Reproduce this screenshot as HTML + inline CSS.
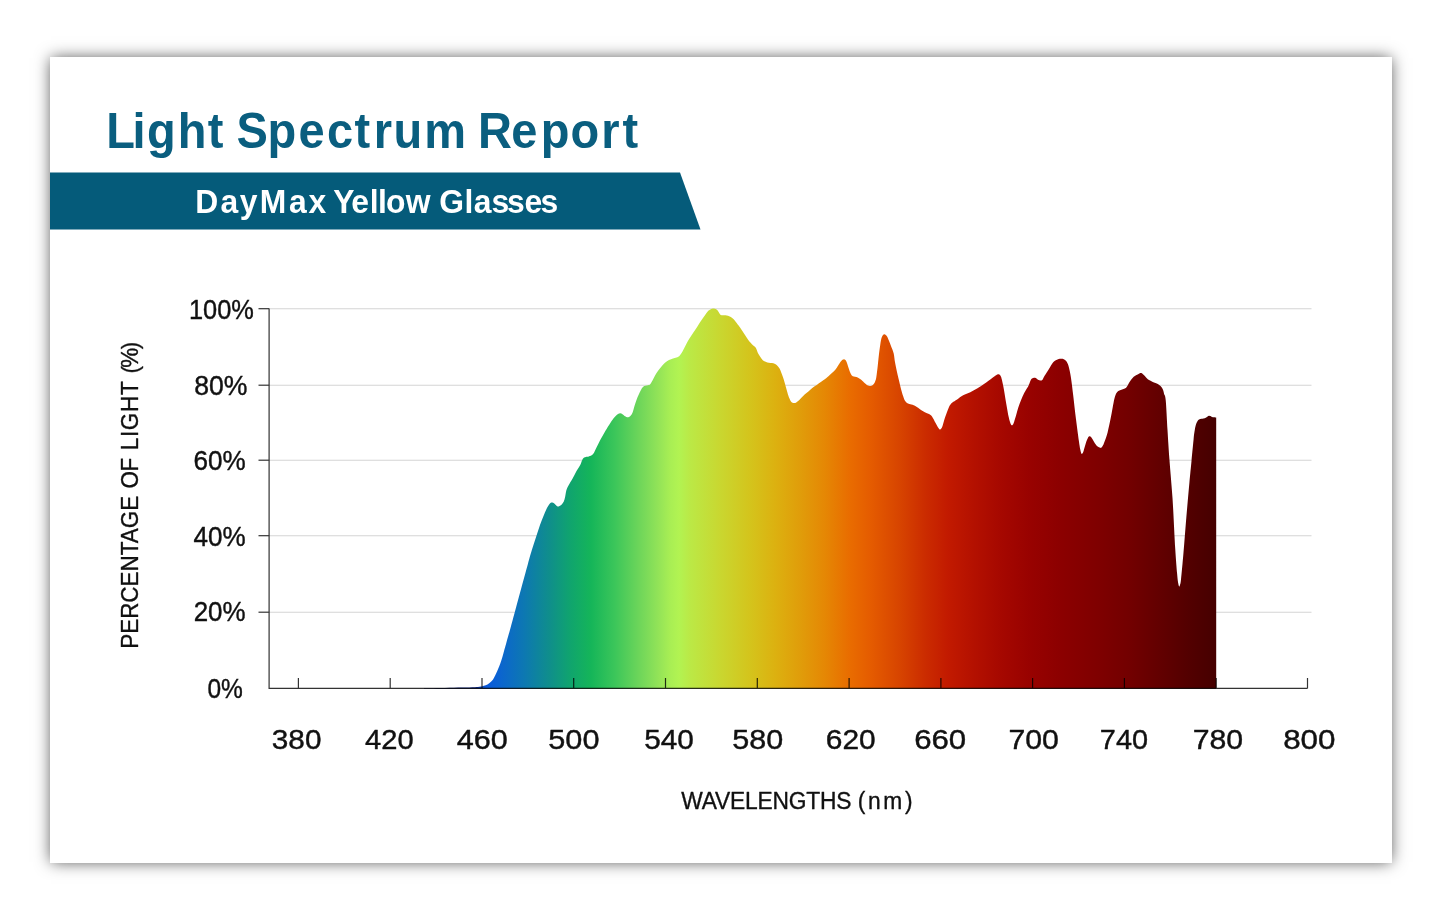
<!DOCTYPE html>
<html lang="en">
<head>
<meta charset="utf-8">
<title>Light Spectrum Report - DayMax Yellow Glasses</title>
<style>
html,body{margin:0;padding:0;background:#ffffff;}
body{width:1445px;height:918px;position:relative;overflow:hidden;font-family:"Liberation Sans",sans-serif;}
.card{position:absolute;left:50px;top:57px;width:1341.6px;height:805.5px;background:#fff;box-shadow:0 0 15px -1px rgba(0,0,0,0.68);}
svg{position:absolute;left:0;top:0;display:block;}
</style>
</head>
<body>
<div class="card"></div>
<svg width="1445" height="918" viewBox="0 0 1445 918" font-family="'Liberation Sans', sans-serif">
<defs><linearGradient id="sp" gradientUnits="userSpaceOnUse" x1="424" y1="0" x2="1216" y2="0"><stop offset="0.0000" stop-color="#0a1560"/><stop offset="0.0657" stop-color="#08207c"/><stop offset="0.0745" stop-color="#0a4fc8"/><stop offset="0.0795" stop-color="#0a5adb"/><stop offset="0.0922" stop-color="#0b62d3"/><stop offset="0.1263" stop-color="#0d78b2"/><stop offset="0.1578" stop-color="#0f8e8c"/><stop offset="0.1856" stop-color="#10a56d"/><stop offset="0.2109" stop-color="#15b559"/><stop offset="0.2412" stop-color="#3cc65a"/><stop offset="0.2727" stop-color="#6fd65a"/><stop offset="0.2955" stop-color="#92e358"/><stop offset="0.3106" stop-color="#a8ee54"/><stop offset="0.3220" stop-color="#b2f352"/><stop offset="0.3359" stop-color="#bbe946"/><stop offset="0.3737" stop-color="#c9d730"/><stop offset="0.4116" stop-color="#d4c41c"/><stop offset="0.4432" stop-color="#dcb110"/><stop offset="0.4747" stop-color="#e09d0a"/><stop offset="0.5063" stop-color="#e58704"/><stop offset="0.5379" stop-color="#e96c00"/><stop offset="0.5631" stop-color="#e55c00"/><stop offset="0.6010" stop-color="#d74400"/><stop offset="0.6326" stop-color="#cb2c00"/><stop offset="0.6616" stop-color="#c21a00"/><stop offset="0.6957" stop-color="#b31000"/><stop offset="0.7273" stop-color="#a60800"/><stop offset="0.7652" stop-color="#980200"/><stop offset="0.8030" stop-color="#8c0000"/><stop offset="0.8535" stop-color="#7e0000"/><stop offset="0.8914" stop-color="#720000"/><stop offset="0.9293" stop-color="#620000"/><stop offset="0.9672" stop-color="#520000"/><stop offset="1.0000" stop-color="#460000"/></linearGradient></defs>
<polygon points="50,172.4 680,172.4 700.5,229.5 50,229.5" fill="#055b7a"/>
<line x1="269.1" y1="308.7" x2="1311.5" y2="308.7" stroke="#d4d4d4" stroke-width="1.1"/>
<line x1="269.1" y1="385.2" x2="1311.5" y2="385.2" stroke="#d4d4d4" stroke-width="1.1"/>
<line x1="269.1" y1="460.2" x2="1311.5" y2="460.2" stroke="#d4d4d4" stroke-width="1.1"/>
<line x1="269.1" y1="535.7" x2="1311.5" y2="535.7" stroke="#d4d4d4" stroke-width="1.1"/>
<line x1="269.1" y1="612.2" x2="1311.5" y2="612.2" stroke="#d4d4d4" stroke-width="1.1"/>
<path d="M424.0,688.3C427.5,688.2 438.7,688.1 445.0,688.0C451.3,687.9 457.0,687.7 462.0,687.6C467.0,687.5 472.0,687.3 475.0,687.2C478.0,687.1 478.8,686.9 480.0,686.8C481.2,686.6 481.4,686.5 482.3,686.3C483.2,686.0 484.6,685.8 485.7,685.3C486.8,684.8 488.1,684.0 489.2,683.2C490.2,682.5 491.2,681.7 492.0,680.8C492.8,679.9 493.3,678.9 494.0,677.7C494.7,676.5 495.4,675.0 496.1,673.5C496.8,672.0 497.5,670.4 498.2,668.7C498.9,667.0 499.6,665.5 500.3,663.5C501.0,661.5 501.8,659.0 502.4,656.9C503.0,654.8 503.5,653.0 504.1,650.7C504.8,648.4 505.2,646.8 506.3,643.0C507.4,639.2 509.1,633.1 510.5,628.0C511.9,622.9 513.0,618.9 514.7,612.6C516.4,606.3 518.5,598.4 520.7,590.3C522.9,582.2 526.0,570.7 527.9,563.9C529.8,557.1 530.6,554.1 532.0,549.5C533.4,544.9 535.0,540.4 536.3,536.3C537.6,532.2 538.8,528.4 540.0,525.0C541.2,521.6 542.4,518.7 543.5,516.0C544.6,513.3 545.5,511.0 546.5,509.0C547.5,507.0 548.6,505.1 549.5,504.0C550.4,502.9 551.2,502.7 552.0,502.6C552.8,502.5 553.3,502.9 554.0,503.3C554.7,503.8 555.4,504.8 556.0,505.3C556.6,505.9 557.0,506.5 557.6,506.6C558.2,506.7 558.9,506.3 559.5,506.0C560.1,505.7 560.8,505.4 561.5,504.7C562.2,503.9 563.2,502.9 563.8,501.5C564.4,500.1 564.8,498.4 565.2,496.5C565.6,494.6 565.8,492.2 566.3,490.4C566.8,488.6 567.5,487.5 568.5,485.5C569.5,483.5 571.4,480.8 572.6,478.5C573.9,476.2 574.8,474.2 576.0,472.0C577.2,469.8 579.1,467.2 580.1,465.3C581.1,463.4 581.4,461.8 582.0,460.5C582.6,459.2 583.1,458.4 583.8,457.8C584.5,457.2 585.2,457.2 586.0,457.0C586.8,456.8 587.6,457.1 588.8,456.6C590.0,456.1 591.8,455.6 593.1,454.1C594.4,452.6 595.3,449.8 596.5,447.5C597.7,445.2 598.8,442.8 600.1,440.3C601.4,437.8 603.0,435.0 604.5,432.5C606.0,430.0 607.6,427.3 608.9,425.3C610.1,423.3 611.0,422.0 612.0,420.5C613.0,419.0 614.2,417.6 615.2,416.5C616.2,415.4 617.2,414.6 618.0,414.0C618.8,413.4 619.5,413.2 620.2,413.2C621.0,413.2 621.7,413.7 622.5,414.2C623.3,414.7 624.4,415.8 625.2,416.3C626.0,416.8 626.7,417.2 627.3,417.3C627.9,417.4 628.3,417.3 628.9,417.0C629.5,416.7 630.2,416.3 630.8,415.5C631.4,414.7 632.1,413.8 632.7,412.2C633.3,410.6 633.9,408.0 634.5,406.0C635.1,404.0 635.6,402.2 636.4,400.2C637.1,398.2 638.1,395.9 639.0,394.0C639.9,392.1 640.8,390.2 641.5,389.0C642.2,387.8 642.9,387.2 643.5,386.6C644.1,386.1 644.5,385.9 645.2,385.7C646.0,385.5 647.2,385.4 648.0,385.2C648.8,384.9 649.5,385.0 650.2,384.2C651.0,383.4 651.7,382.0 652.5,380.5C653.3,379.0 654.2,376.9 655.2,375.2C656.2,373.5 657.2,372.0 658.3,370.5C659.3,369.0 660.4,367.7 661.5,366.4C662.6,365.1 663.8,363.9 665.0,362.8C666.2,361.8 667.7,360.8 669.0,360.1C670.3,359.4 671.8,358.9 673.0,358.5C674.2,358.1 675.3,358.1 676.5,357.6C677.7,357.1 678.8,356.7 680.0,355.3C681.2,353.9 682.3,351.7 683.5,349.5C684.7,347.3 685.9,344.6 687.2,342.3C688.5,340.0 690.0,337.8 691.4,335.6C692.8,333.4 693.9,331.9 695.6,329.3C697.3,326.7 699.6,322.9 701.6,320.0C703.6,317.1 706.2,313.5 707.5,311.8C708.8,310.1 708.9,310.5 709.5,310.0C710.1,309.5 710.5,309.2 711.1,309.0C711.7,308.8 712.3,308.7 712.9,308.6C713.5,308.6 714.1,308.5 714.7,308.7C715.3,308.9 716.0,309.2 716.6,309.6C717.2,310.1 717.8,310.8 718.3,311.4C718.8,312.0 719.1,312.9 719.5,313.5C719.9,314.1 720.1,314.7 720.7,315.0C721.3,315.3 722.2,315.2 723.0,315.3C723.8,315.4 724.7,315.2 725.5,315.3C726.3,315.4 727.2,315.6 728.0,315.8C728.8,316.1 729.5,316.3 730.3,316.8C731.1,317.3 732.0,317.9 732.8,318.6C733.6,319.3 734.2,319.9 735.1,321.0C736.0,322.1 737.3,323.8 738.4,325.3C739.5,326.8 740.6,328.3 741.7,329.9C742.8,331.5 743.9,333.3 745.0,335.0C746.1,336.7 747.1,338.6 748.3,340.1C749.4,341.7 751.0,343.3 751.9,344.3C752.8,345.3 753.2,345.5 753.8,346.0C754.4,346.5 754.9,346.7 755.4,347.3C755.9,347.9 756.2,348.7 756.6,349.6C757.0,350.5 757.2,351.5 757.8,352.7C758.4,353.9 759.4,355.6 760.2,356.8C761.0,358.0 761.8,359.1 762.6,359.9C763.4,360.7 764.2,361.2 765.0,361.6C765.8,362.0 766.5,362.3 767.4,362.5C768.3,362.7 769.4,362.8 770.4,362.9C771.4,363.0 772.5,363.0 773.4,363.2C774.3,363.4 774.9,363.8 775.6,364.2C776.3,364.6 777.0,365.3 777.6,365.9C778.2,366.5 778.7,367.2 779.2,368.0C779.7,368.8 779.9,368.9 780.6,370.7C781.3,372.5 782.7,376.2 783.6,379.0C784.5,381.8 785.2,384.6 786.0,387.4C786.8,390.2 787.8,393.9 788.4,395.8C789.0,397.7 789.3,398.1 789.7,399.0C790.1,399.9 790.4,400.6 790.8,401.2C791.2,401.8 791.6,402.2 792.0,402.5C792.4,402.8 792.7,402.9 793.2,403.0C793.7,403.1 794.3,403.0 794.8,402.9C795.3,402.8 795.4,403.0 796.2,402.4C797.0,401.8 798.4,400.7 799.8,399.4C801.2,398.1 803.1,396.0 804.6,394.6C806.1,393.2 807.5,392.2 809.0,391.0C810.5,389.8 811.0,389.0 813.6,387.1C816.2,385.2 821.7,381.6 824.4,379.5C827.1,377.4 828.2,376.3 830.0,374.7C831.8,373.1 833.9,371.3 835.3,369.7C836.7,368.1 837.4,366.7 838.3,365.3C839.2,363.9 840.1,362.4 840.8,361.5C841.5,360.6 842.0,360.2 842.5,359.8C843.0,359.4 843.5,359.2 844.0,359.2C844.5,359.2 844.9,359.5 845.4,360.0C845.9,360.5 846.0,360.5 846.7,362.3C847.4,364.1 848.8,368.8 849.5,370.8C850.2,372.8 850.5,373.3 851.0,374.2C851.5,375.1 852.1,375.8 852.8,376.2C853.5,376.6 854.3,376.6 855.0,376.8C855.7,377.0 856.0,376.8 857.1,377.3C858.2,377.9 860.4,379.2 861.5,380.1C862.6,381.0 863.1,381.7 864.0,382.5C864.9,383.3 866.1,384.3 866.9,384.9C867.7,385.4 868.2,385.6 868.8,385.8C869.4,386.0 870.0,386.1 870.6,386.0C871.2,385.9 871.9,385.7 872.5,385.3C873.1,384.9 873.6,384.3 874.1,383.6C874.6,382.9 874.9,382.1 875.3,381.0C875.7,379.9 875.9,379.9 876.3,377.3C876.7,374.7 877.3,369.8 877.8,365.3C878.3,360.8 879.0,353.8 879.5,350.1C880.0,346.4 880.2,345.0 880.5,343.0C880.8,341.0 881.1,339.4 881.5,338.1C881.9,336.8 882.3,335.9 882.8,335.2C883.3,334.5 883.8,334.2 884.3,334.2C884.8,334.2 885.5,334.6 886.0,335.2C886.5,335.8 886.8,335.8 887.6,337.5C888.4,339.2 889.9,343.1 890.9,345.7C891.9,348.3 893.0,350.5 893.7,353.4C894.4,356.3 894.4,359.0 895.2,363.2C896.0,367.4 897.4,373.7 898.5,378.4C899.6,383.1 900.9,388.4 901.7,391.5C902.5,394.6 903.0,395.6 903.5,397.2C904.0,398.8 904.4,399.8 905.0,400.8C905.6,401.8 906.3,402.4 907.0,403.0C907.7,403.6 908.3,403.7 909.4,404.1C910.5,404.5 912.2,404.6 913.7,405.2C915.2,405.8 917.1,407.1 918.1,407.8C919.1,408.5 918.9,408.6 920.0,409.3C921.1,410.1 923.3,411.5 924.8,412.3C926.3,413.1 927.8,413.4 929.0,414.1C930.2,414.8 930.9,415.0 932.0,416.5C933.1,418.0 934.5,421.1 935.6,423.1C936.7,425.1 937.8,427.2 938.6,428.3C939.4,429.4 939.7,429.6 940.2,429.5C940.7,429.4 941.2,428.6 941.6,428.0C942.0,427.4 942.0,427.5 942.6,425.7C943.2,423.9 944.2,420.1 945.2,417.1C946.2,414.1 947.9,409.6 948.8,407.5C949.7,405.4 949.9,405.3 950.5,404.5C951.1,403.7 951.3,403.3 952.4,402.5C953.5,401.7 955.3,400.7 957.1,399.5C958.9,398.3 960.9,396.5 963.1,395.3C965.3,394.1 967.9,393.4 970.3,392.2C972.7,391.0 975.1,389.8 977.5,388.3C979.9,386.9 982.3,385.2 984.7,383.5C987.1,381.8 990.0,379.6 991.9,378.2C993.8,376.8 995.0,375.8 996.1,375.2C997.2,374.6 997.7,374.4 998.3,374.3C998.9,374.2 999.4,374.4 999.8,374.8C1000.2,375.2 1000.5,375.7 1000.9,376.5C1001.2,377.3 1001.4,377.6 1001.9,379.8C1002.4,382.0 1003.2,385.5 1003.9,389.5C1004.6,393.5 1005.5,399.3 1006.3,403.9C1007.1,408.5 1008.0,413.8 1008.7,417.1C1009.4,420.4 1010.0,422.1 1010.5,423.5C1011.0,424.9 1011.5,425.3 1012.0,425.3C1012.5,425.3 1013.0,424.9 1013.6,423.3C1014.2,421.7 1015.1,418.5 1015.9,415.9C1016.7,413.3 1017.4,410.2 1018.3,407.5C1019.2,404.8 1020.2,402.1 1021.2,399.7C1022.2,397.3 1023.1,395.2 1024.2,393.1C1025.3,391.0 1026.9,388.8 1027.8,387.1C1028.7,385.4 1029.1,384.2 1029.6,383.0C1030.1,381.8 1030.4,380.7 1030.8,380.0C1031.2,379.3 1031.6,378.9 1032.0,378.6C1032.4,378.3 1032.6,378.1 1033.2,378.0C1033.8,377.9 1034.8,377.6 1035.6,377.9C1036.4,378.2 1037.2,379.2 1038.0,379.7C1038.8,380.1 1039.7,380.6 1040.4,380.6C1041.2,380.6 1041.8,380.5 1042.5,379.7C1043.2,378.9 1043.5,377.6 1044.6,375.8C1045.6,374.1 1047.4,371.5 1048.8,369.2C1050.2,366.9 1051.8,363.8 1053.2,362.2C1054.7,360.6 1056.0,360.0 1057.5,359.4C1059.0,358.8 1060.8,358.7 1061.9,358.7C1063.0,358.7 1063.6,359.0 1064.3,359.4C1065.0,359.8 1065.7,360.4 1066.2,361.1C1066.8,361.8 1067.2,362.6 1067.6,363.6C1068.0,364.6 1068.2,364.6 1068.8,367.0C1069.4,369.4 1070.3,373.2 1071.0,377.9C1071.7,382.6 1072.4,388.4 1073.2,395.3C1074.0,402.2 1075.0,411.7 1076.0,419.3C1077.0,426.9 1078.2,436.1 1078.9,441.1C1079.6,446.1 1079.9,447.4 1080.3,449.5C1080.7,451.6 1081.1,453.1 1081.5,453.7C1081.9,454.3 1082.2,453.8 1082.5,453.3C1082.8,452.8 1083.0,452.6 1083.6,450.9C1084.1,449.2 1085.1,445.4 1085.8,443.2C1086.5,441.0 1087.5,438.9 1088.0,437.8C1088.5,436.7 1088.7,436.9 1089.0,436.6C1089.3,436.4 1089.6,436.2 1089.9,436.3C1090.2,436.4 1090.6,436.6 1091.0,437.0C1091.4,437.4 1091.6,437.7 1092.4,438.9C1093.2,440.1 1094.8,443.1 1095.6,444.3C1096.4,445.5 1096.8,445.8 1097.3,446.3C1097.8,446.8 1098.4,446.9 1098.9,447.2C1099.4,447.4 1099.9,447.7 1100.3,447.8C1100.7,447.9 1101.1,448.0 1101.5,447.6C1101.9,447.2 1102.4,446.4 1102.9,445.5C1103.4,444.6 1103.5,444.4 1104.3,442.2C1105.1,440.0 1106.5,436.6 1107.6,432.4C1108.7,428.2 1109.9,422.2 1110.9,417.1C1111.9,412.0 1113.0,405.3 1113.7,401.9C1114.4,398.5 1114.6,397.9 1115.0,396.5C1115.4,395.1 1115.8,394.1 1116.3,393.2C1116.8,392.3 1117.6,391.6 1118.3,391.0C1119.0,390.4 1119.8,390.2 1120.7,389.9C1121.6,389.6 1122.6,389.4 1123.5,389.0C1124.4,388.6 1125.4,388.3 1126.1,387.7C1126.8,387.1 1127.2,386.2 1127.8,385.3C1128.3,384.4 1128.8,383.3 1129.4,382.3C1130.0,381.3 1130.8,380.2 1131.5,379.3C1132.2,378.4 1133.0,377.5 1133.7,376.8C1134.5,376.1 1135.3,375.6 1136.0,375.2C1136.7,374.8 1137.5,374.5 1138.1,374.2C1138.7,373.9 1139.2,373.5 1139.8,373.3C1140.3,373.1 1140.9,373.0 1141.4,373.1C1141.9,373.2 1142.5,373.8 1143.0,374.2C1143.5,374.6 1144.0,375.0 1144.6,375.7C1145.2,376.4 1146.1,377.6 1146.8,378.3C1147.5,379.0 1148.1,379.5 1149.0,380.1C1149.9,380.7 1151.2,381.2 1152.3,381.7C1153.4,382.2 1154.6,382.5 1155.5,382.9C1156.4,383.3 1157.1,383.6 1157.8,384.0C1158.5,384.4 1159.3,384.9 1159.9,385.5C1160.5,386.1 1161.1,386.6 1161.6,387.3C1162.1,388.0 1162.7,388.8 1163.1,389.9C1163.5,391.0 1163.7,392.3 1164.1,394.0C1164.5,395.7 1165.1,394.0 1165.7,400.0C1166.3,406.0 1166.9,420.2 1167.5,430.0C1168.1,439.8 1168.6,447.5 1169.4,458.9C1170.2,470.2 1171.5,483.2 1172.5,498.1C1173.5,513.0 1174.4,535.6 1175.2,548.2C1176.0,560.8 1176.6,567.6 1177.1,573.5C1177.6,579.4 1177.9,581.3 1178.3,583.5C1178.7,585.7 1178.9,586.4 1179.2,586.6C1179.5,586.8 1179.8,585.7 1180.1,584.5C1180.4,583.3 1180.4,584.8 1181.0,579.5C1181.6,574.2 1182.6,562.9 1183.5,552.6C1184.4,542.3 1185.3,529.3 1186.3,517.7C1187.3,506.1 1188.5,492.2 1189.4,482.8C1190.3,473.4 1190.8,468.3 1191.5,461.0C1192.2,453.7 1193.1,444.3 1193.6,439.2C1194.1,434.1 1194.3,432.9 1194.7,430.5C1195.1,428.1 1195.4,426.6 1195.8,425.1C1196.2,423.6 1196.8,422.3 1197.3,421.4C1197.8,420.5 1198.3,420.0 1199.0,419.6C1199.7,419.2 1200.8,419.0 1201.5,418.8C1202.2,418.6 1202.6,418.7 1203.4,418.5C1204.2,418.3 1205.3,417.9 1206.2,417.4C1207.1,416.9 1208.2,415.9 1208.9,415.7C1209.6,415.5 1210.0,415.8 1210.5,416.0C1211.0,416.2 1211.3,416.8 1212.1,417.0C1212.9,417.2 1214.7,417.3 1215.4,417.4C1216.1,417.5 1216.1,417.4 1216.2,417.4L1216.2,688.8 L424.0,688.8 Z" fill="url(#sp)"/>
<g stroke="#333333" stroke-width="1.2" fill="none" style="mix-blend-mode:multiply">
<path d="M269.1,308.5 V688.4 H1307.5"/>
<line x1="258.5" y1="308.7" x2="269.1" y2="308.7"/>
<line x1="258.5" y1="385.2" x2="269.1" y2="385.2"/>
<line x1="258.5" y1="460.2" x2="269.1" y2="460.2"/>
<line x1="258.5" y1="535.7" x2="269.1" y2="535.7"/>
<line x1="258.5" y1="612.2" x2="269.1" y2="612.2"/>
<line x1="298.4" y1="678" x2="298.4" y2="688.4"/>
<line x1="390.2" y1="678" x2="390.2" y2="688.4"/>
<line x1="482.0" y1="678" x2="482.0" y2="688.4"/>
<line x1="573.7" y1="678" x2="573.7" y2="688.4"/>
<line x1="665.5" y1="678" x2="665.5" y2="688.4"/>
<line x1="757.3" y1="678" x2="757.3" y2="688.4"/>
<line x1="849.1" y1="678" x2="849.1" y2="688.4"/>
<line x1="940.9" y1="678" x2="940.9" y2="688.4"/>
<line x1="1032.6" y1="678" x2="1032.6" y2="688.4"/>
<line x1="1124.4" y1="678" x2="1124.4" y2="688.4"/>
<line x1="1216.2" y1="678" x2="1216.2" y2="688.4"/>
<line x1="1307.5" y1="678" x2="1307.5" y2="688.4"/>
</g>
<text transform="matrix(0.46995 0 0 0.50000 0 147.80)" x="226.3 281.9 312.6 378.0 442.0 492.5 503.1 569.5 635.2 695.7 754.4 795.5 837.1 902.7 980.1 1017.4 1087.8 1150.8 1214.2 1279.6 1324.7" y="0" font-size="100" font-weight="bold" fill="#0a5e7f">Light Spectrum Report</text>
<text transform="matrix(0.31857 0 0 0.33768 0 212.70)" x="613.1 692.2 752.5 815.3 906.9 968.1 1027.2 1046.3 1102.8 1160.7 1186.4 1211.9 1273.6 1346.3 1379.0 1458.1 1487.4 1542.9 1591.6 1646.3 1696.9" y="0" font-size="100" font-weight="bold" fill="#ffffff">DayMax Yellow Glasses</text>
<text transform="matrix(0.25410 0 0 0.27000 188.97 319.40)" font-size="100" font-weight="normal" fill="#111111" stroke="#111111" stroke-width="1.5" stroke-linejoin="round">100%</text>
<text transform="matrix(0.26632 0 0 0.27000 194.13 394.90)" font-size="100" font-weight="normal" fill="#111111" stroke="#111111" stroke-width="1.5" stroke-linejoin="round">80%</text>
<text transform="matrix(0.26094 0 0 0.27000 193.40 470.20)" font-size="100" font-weight="normal" fill="#111111" stroke="#111111" stroke-width="1.5" stroke-linejoin="round">60%</text>
<text transform="matrix(0.26051 0 0 0.27000 193.48 545.90)" font-size="100" font-weight="normal" fill="#111111" stroke="#111111" stroke-width="1.5" stroke-linejoin="round">40%</text>
<text transform="matrix(0.25938 0 0 0.27000 193.70 621.10)" font-size="100" font-weight="normal" fill="#111111" stroke="#111111" stroke-width="1.5" stroke-linejoin="round">20%</text>
<text transform="matrix(0.24526 0 0 0.27000 207.42 697.80)" font-size="100" font-weight="normal" fill="#111111" stroke="#111111" stroke-width="1.5" stroke-linejoin="round">0%</text>
<text transform="matrix(0.29748 0 0 0.27000 271.81 749.20)" font-size="100" font-weight="normal" fill="#111111" stroke="#111111" stroke-width="1.5" stroke-linejoin="round">380</text>
<text transform="matrix(0.29130 0 0 0.27000 365.02 749.20)" font-size="100" font-weight="normal" fill="#111111" stroke="#111111" stroke-width="1.5" stroke-linejoin="round">420</text>
<text transform="matrix(0.30621 0 0 0.27000 456.69 749.20)" font-size="100" font-weight="normal" fill="#111111" stroke="#111111" stroke-width="1.5" stroke-linejoin="round">460</text>
<text transform="matrix(0.30692 0 0 0.27000 548.27 749.20)" font-size="100" font-weight="normal" fill="#111111" stroke="#111111" stroke-width="1.5" stroke-linejoin="round">500</text>
<text transform="matrix(0.29748 0 0 0.27000 644.21 749.20)" font-size="100" font-weight="normal" fill="#111111" stroke="#111111" stroke-width="1.5" stroke-linejoin="round">540</text>
<text transform="matrix(0.30566 0 0 0.27000 732.18 749.20)" font-size="100" font-weight="normal" fill="#111111" stroke="#111111" stroke-width="1.5" stroke-linejoin="round">580</text>
<text transform="matrix(0.29937 0 0 0.27000 825.80 749.20)" font-size="100" font-weight="normal" fill="#111111" stroke="#111111" stroke-width="1.5" stroke-linejoin="round">620</text>
<text transform="matrix(0.31203 0 0 0.27000 914.14 749.20)" font-size="100" font-weight="normal" fill="#111111" stroke="#111111" stroke-width="1.5" stroke-linejoin="round">660</text>
<text transform="matrix(0.30253 0 0 0.27000 1008.39 749.20)" font-size="100" font-weight="normal" fill="#111111" stroke="#111111" stroke-width="1.5" stroke-linejoin="round">700</text>
<text transform="matrix(0.28861 0 0 0.27000 1099.86 749.20)" font-size="100" font-weight="normal" fill="#111111" stroke="#111111" stroke-width="1.5" stroke-linejoin="round">740</text>
<text transform="matrix(0.30253 0 0 0.27000 1192.69 749.20)" font-size="100" font-weight="normal" fill="#111111" stroke="#111111" stroke-width="1.5" stroke-linejoin="round">780</text>
<text transform="matrix(0.31384 0 0 0.27000 1283.14 749.20)" font-size="100" font-weight="normal" fill="#111111" stroke="#111111" stroke-width="1.5" stroke-linejoin="round">800</text>
<text transform="matrix(0.22788 0 0 0.24058 681.50 808.60)" x="-1.0 88.8 147.2 213.0 278.8 333.5 399.4 470.7 547.6 607.8 679.1 743.5 773.8 818.5 885.6 980.3" y="0" font-size="100" font-weight="normal" fill="#111111" stroke="#111111" stroke-width="1.5" stroke-linejoin="round">WAVELENGTHS (nm)</text>
<text transform="matrix(0 -0.22502 0.24783 0 138.00 647.00)" x="-8.0 58.5 125.1 197.1 269.2 335.7 407.7 461.2 527.8 605.4 671.9 704.3 779.6 841.5 874.2 932.8 963.5 1044.3 1119.5 1182.7 1215.2 1241.3 1322.9" y="0" font-size="100" font-weight="normal" fill="#111111" stroke="#111111" stroke-width="1.5" stroke-linejoin="round">PERCENTAGE OF LIGHT (%)</text>
</svg>
</body>
</html>
